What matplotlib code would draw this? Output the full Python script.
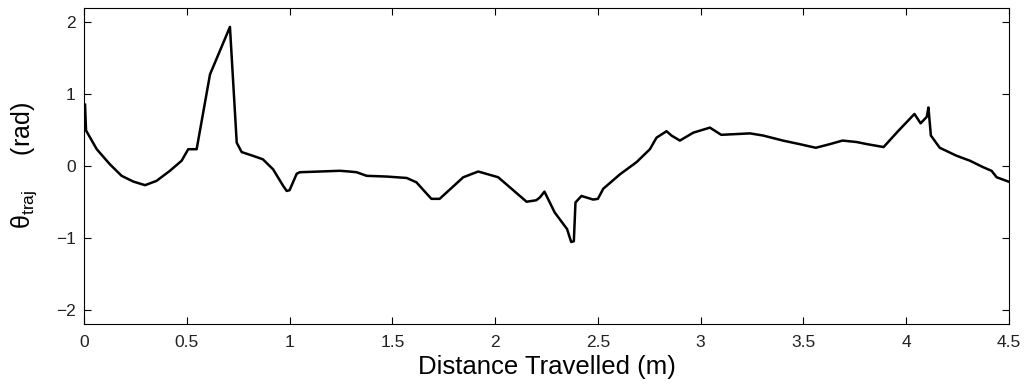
import matplotlib
matplotlib.use("Agg")
import matplotlib.pyplot as plt

# ── Trajectory heading vs distance ──────────────────────────────────
distance = [0.005, 0.01, 0.062, 0.126, 0.183, 0.24, 0.297, 0.353, 0.418, 0.475,
            0.507, 0.548, 0.613, 0.71, 0.743, 0.767, 0.82, 0.87, 0.92, 0.969,
            0.986, 1.0, 1.035, 1.05, 1.148, 1.245, 1.29, 1.326, 1.375, 1.472,
            1.57, 1.617, 1.69, 1.73, 1.78, 1.845, 1.918, 2.015, 2.08, 2.153,
            2.20, 2.218, 2.24, 2.29, 2.35, 2.37, 2.383, 2.391, 2.42, 2.477,
            2.50, 2.526, 2.607, 2.688, 2.753, 2.785, 2.834, 2.858, 2.899, 2.964,
            3.045, 3.10, 3.24, 3.304, 3.40, 3.482, 3.56, 3.628, 3.69, 3.758,
            3.81, 3.89, 3.96, 4.04, 4.07, 4.10, 4.108, 4.12, 4.163, 4.244,
            4.31, 4.374, 4.415, 4.44, 4.497]
theta = [0.85, 0.49, 0.23, 0.02, -0.14, -0.22, -0.27, -0.21, -0.07, 0.07,
         0.23, 0.23, 1.27, 1.93, 0.32, 0.19, 0.14, 0.09, -0.05, -0.28,
         -0.35, -0.34, -0.11, -0.09, -0.08, -0.07, -0.08, -0.09, -0.14, -0.15,
         -0.17, -0.23, -0.46, -0.46, -0.33, -0.16, -0.08, -0.16, -0.32, -0.50,
         -0.48, -0.44, -0.36, -0.65, -0.88, -1.06, -1.05, -0.51, -0.42, -0.47,
         -0.46, -0.32, -0.12, 0.05, 0.23, 0.39, 0.48, 0.42, 0.35, 0.46,
         0.53, 0.43, 0.45, 0.42, 0.35, 0.30, 0.25, 0.30, 0.35, 0.33,
         0.30, 0.26, 0.48, 0.72, 0.59, 0.68, 0.81, 0.42, 0.25, 0.14,
         0.07, -0.02, -0.07, -0.16, -0.22]

x_ticks = [0, 0.5, 1, 1.5, 2, 2.5, 3, 3.5, 4, 4.5]
x_tick_labels = ["0", "0.5", "1", "1.5", "2", "2.5", "3", "3.5", "4", "4.5"]
y_ticks = [-2, -1, 0, 1, 2]
y_tick_labels = ["\u22122", "\u22121", "0", "1", "2"]

plt.rcParams["font.family"] = ["Liberation Sans", "DejaVu Sans"]
plt.rcParams["mathtext.fontset"] = "custom"
plt.rcParams["mathtext.rm"] = "Liberation Sans"
plt.rcParams["mathtext.it"] = "Liberation Sans:italic"

fig = plt.figure(figsize=(10.25, 3.88), dpi=100)
ax = fig.add_axes([84 / 1025, 64 / 388, 925 / 1025, 316.5 / 388])

ax.plot(distance, theta, color="black", linewidth=1.8)

ax.set_xlim(0, 4.5)
ax.set_ylim(-2.2, 2.2)
ax.set_xticks(x_ticks)
ax.set_xticklabels(x_tick_labels)
ax.set_yticks(y_ticks)
ax.set_yticklabels(y_tick_labels)

# MATLAB-style: inward ticks on every side, boxed axes
ax.tick_params(direction="in", length=5, width=0.8, top=True, right=True,
               labelsize=12.5, labelcolor="#222222")
ax.tick_params(axis="x", pad=8)
ax.tick_params(axis="y", pad=6)
for s in ax.spines.values():
    s.set_linewidth(0.8)

ax.set_xlabel("Distance Travelled (m)", fontsize=18.5, labelpad=3.5)
ax.set_ylabel("\u03b8$_{\\mathrm{traj}}$     (rad)", fontsize=18, labelpad=12)

fig.savefig("out.png", dpi=100)
